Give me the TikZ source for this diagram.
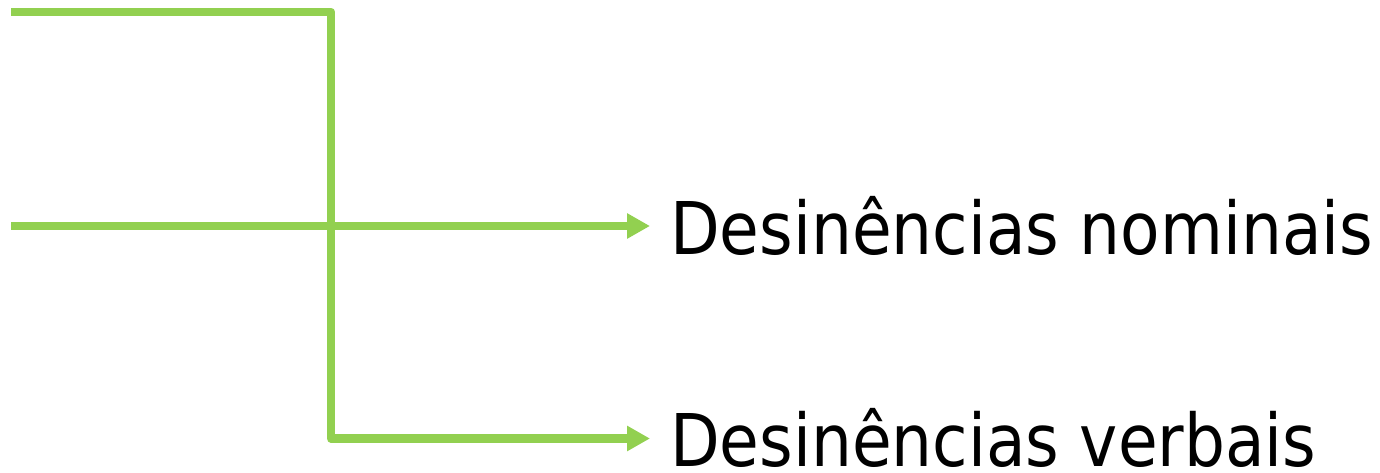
\documentclass[tikz,border=0pt]{standalone}
\usepackage{fontspec}
\setmainfont{DejaVu Sans}
\usetikzlibrary{arrows.meta}
\definecolor{lgreen}{HTML}{92D050}
\tikzset{
  conn/.style={draw=lgreen, line width=8.5pt, line join=round},
  arr/.style={-{Triangle[length=23pt,width=24pt]}},
  lbl/.style={anchor=base west, inner sep=0pt, font=\fontsize{72.7}{80}\selectfont}
}
\begin{document}
\begin{tikzpicture}[x=1pt,y=-1pt]
\useasboundingbox (0,0) rectangle (1380,473);
\coordinate (s1) at (11,12);
\coordinate (s2) at (11,226);
\coordinate (bend) at (331,12);
\coordinate (tipN) at (650,226);
\coordinate (tipV) at (650,438.5);
\node[lbl] (nom) at (670,254) {\scalebox{0.888}[1]{Desinências nominais}};
\node[lbl] (verb) at (670,466) {\scalebox{0.888}[1]{Desinências verbais}};
\draw[conn,arr] (s1) -- (bend) |- (tipV);
\draw[conn,arr] (s2) -- (tipN);
\end{tikzpicture}
\end{document}
